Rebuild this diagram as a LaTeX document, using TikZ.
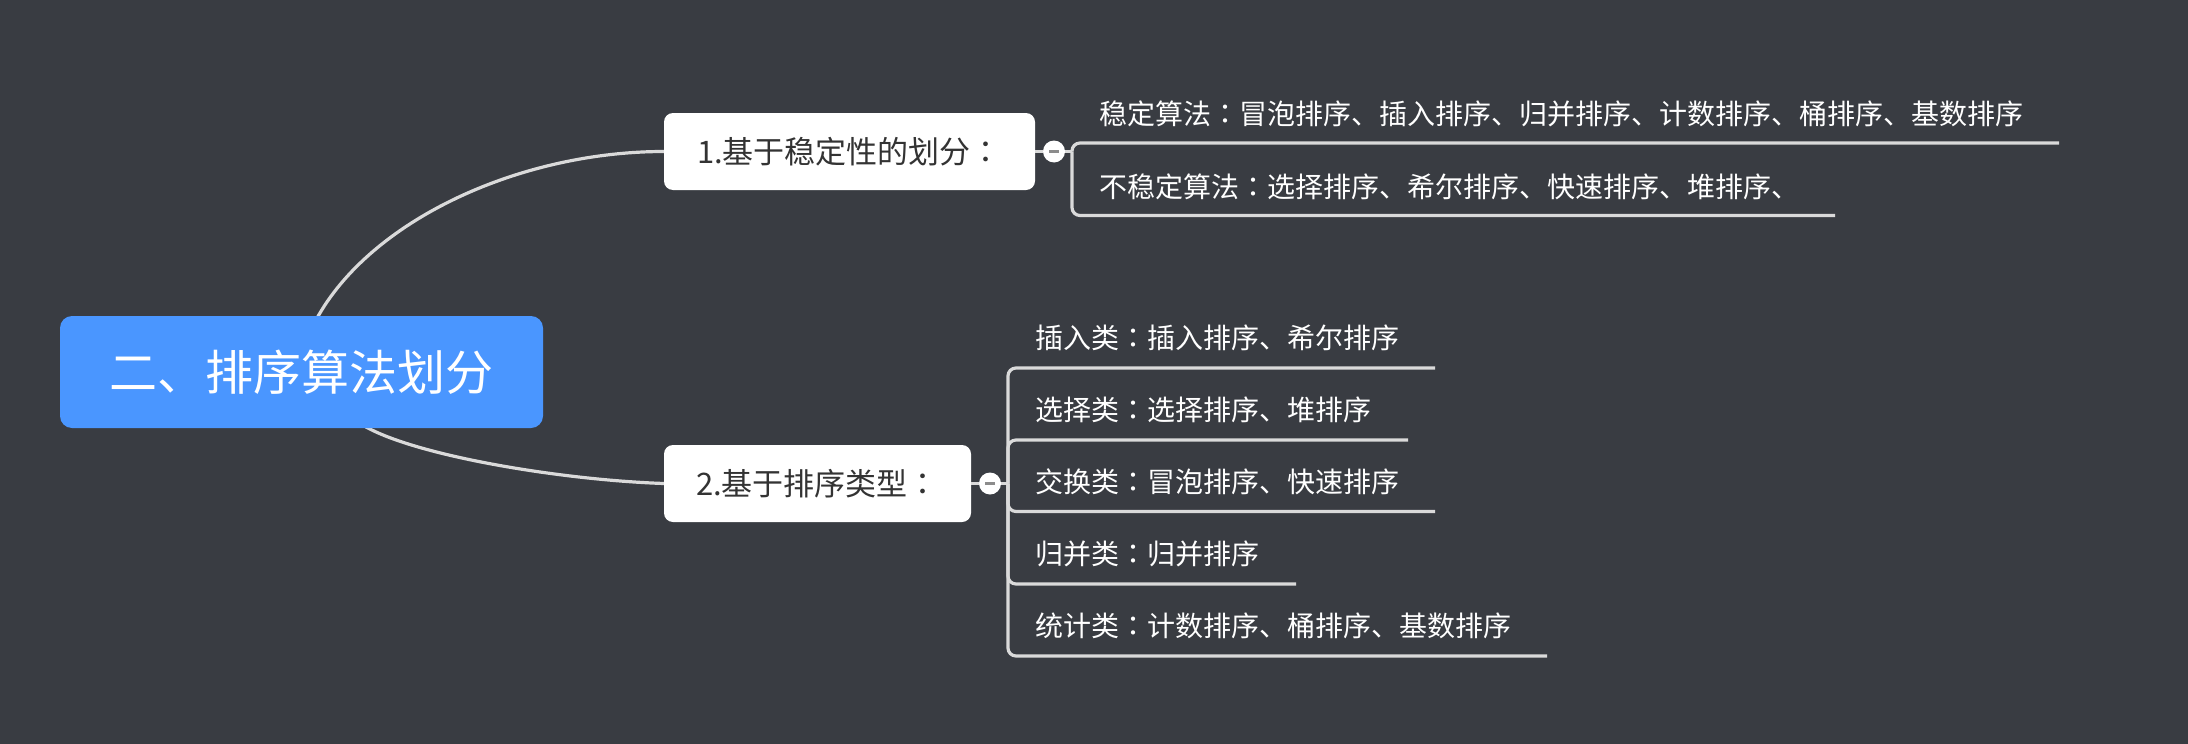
\documentclass[tikz,border=0pt]{standalone}
\usepackage{fontspec}
\newfontfamily\cjk{Noto Sans CJK SC}
\newfontfamily\cjktc{Noto Sans CJK TC}
\newcommand{\cc}{{\cjktc ：}}
\definecolor{bg}{RGB}{57,60,66}
\definecolor{rootblue}{RGB}{74,150,255}
\definecolor{linegray}{RGB}{218,218,218}
\definecolor{txtdark}{RGB}{51,51,51}
\definecolor{minusgray}{RGB}{140,140,140}
\begin{document}
\begin{tikzpicture}[x=1pt,y=-1pt,
  rootbox/.style={fill=rootblue, rounded corners=12pt, minimum width=483pt, minimum height=112pt, text=white, font=\cjk\fontsize{48}{52}\selectfont, inner sep=0pt},
  subbox/.style={fill=white, rounded corners=9pt, minimum height=77pt, text=txtdark, font=\cjk\fontsize{31}{34}\selectfont, inner sep=0pt},
  leaf/.style={text=white, font=\cjk\fontsize{28}{32}\selectfont, inner sep=0pt, anchor=west},
  conn/.style={draw=linegray, line width=3.2pt},
  branch/.style={conn, rounded corners=8pt},
  toggle/.style={circle, fill=white, minimum size=22pt, inner sep=0pt},
  minus/.style={draw=minusgray, line width=3pt}
]
\fill[bg] (0,0) rectangle (2188,744);
\useasboundingbox (0,0) rectangle (2188,744);

% curves from root (drawn first, boxes on top)
\coordinate (rtop) at (316,320);
\coordinate (rbot) at (361,424);
\coordinate (n1w) at (664,151.5);
\coordinate (n2w) at (664,483.5);
\draw[conn] (rtop) .. controls (370,220) and (520,151.5) .. (n1w);
\draw[conn] (rbot) .. controls (410,455) and (560,480) .. (n2w);

% main nodes
\node[rootbox] (root) at (301.5,372) {二、排序算法划分};
\node[subbox, minimum width=371pt] (n1) at (849.5,151.5) {1.基于稳定性的划分\cc};
\node[subbox, minimum width=307pt] (n2) at (817.5,483.5) {2.基于排序类型\cc};

% toggles and bracket points
\node[toggle] (t1) at (1054,151.5) {};
\node[toggle] (t2) at (990,483.5) {};
\coordinate (b1) at (1072,151.5);
\coordinate (b2) at (1008,483.5);
\draw[conn] (n1.east) -- (t1.west);
\draw[conn] (t1.east) -- (b1);
\draw[conn] (n2.east) -- (t2.west);
\draw[conn] (t2.east) -- (b2);
\draw[minus] ([xshift=-5pt]t1.center) -- ([xshift=5pt]t1.center);
\draw[minus] ([xshift=-5pt]t2.center) -- ([xshift=5pt]t2.center);

% leaves of n1
\node[leaf] (a1) at (1099,114) {稳定算法\cc 冒泡排序、插入排序、归并排序、计数排序、桶排序、基数排序};
\node[leaf] (a2) at (1099,187) {不稳定算法\cc 选择排序、希尔排序、快速排序、堆排序、};
\coordinate (ea1) at (2059,143);
\coordinate (ea2) at (1835,215.5);
\draw[branch] (b1) |- (ea1);
\draw[branch] (b1) |- (ea2);

% leaves of n2
\node[leaf] (c1) at (1035,338) {插入类\cc 插入排序、希尔排序};
\node[leaf] (c2) at (1035,410) {选择类\cc 选择排序、堆排序};
\node[leaf] (c3) at (1035,482) {交换类\cc 冒泡排序、快速排序};
\node[leaf] (c4) at (1035,554) {归并类\cc 归并排序};
\node[leaf] (c5) at (1035,626) {统计类\cc 计数排序、桶排序、基数排序};
\coordinate (ec1) at (1435,368);
\coordinate (ec2) at (1408,440);
\coordinate (ec3) at (1435,511.5);
\coordinate (ec4) at (1296,584);
\coordinate (ec5) at (1547,656);
\draw[branch] (b2) |- (ec1);
\draw[branch] (b2) |- (ec2);
\draw[branch] (b2) |- (ec3);
\draw[branch] (b2) |- (ec4);
\draw[branch] (b2) |- (ec5);
\end{tikzpicture}
\end{document}
